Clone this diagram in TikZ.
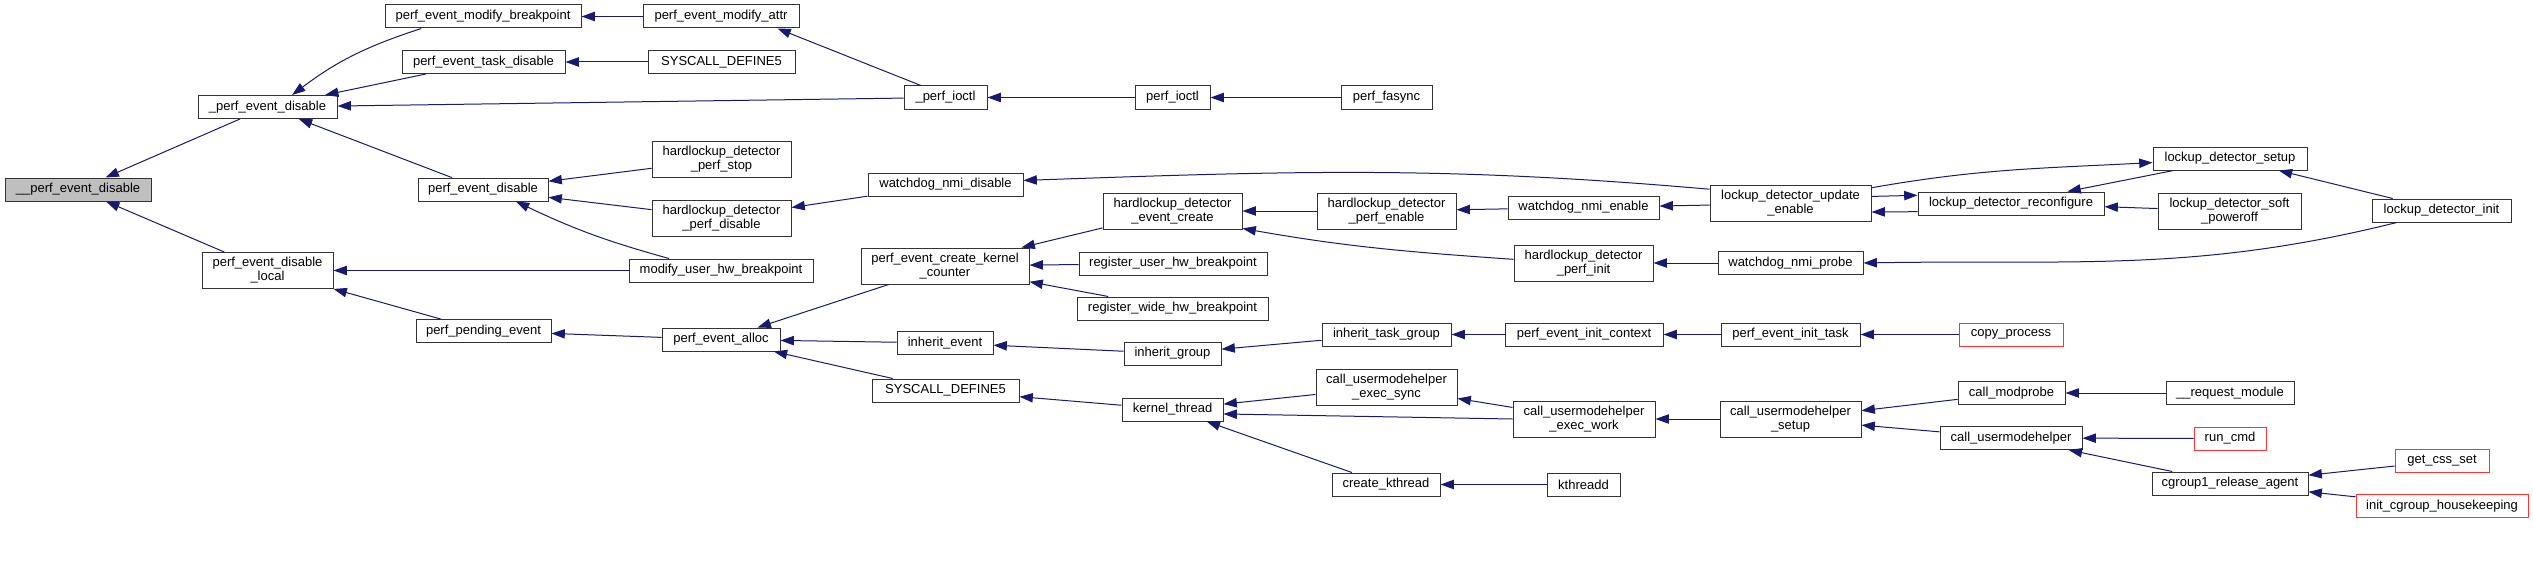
\documentclass[tikz,border=0pt]{standalone}
\usepackage{fontspec}
\setmainfont{Liberation Sans}
\usetikzlibrary{arrows.meta}
\definecolor{edgeblue}{HTML}{191970}
\definecolor{extred}{HTML}{FF3333}
\definecolor{rootgray}{HTML}{BFBFBF}
\begin{document}
\begin{tikzpicture}
[x=0.75pt,y=-0.75pt,
 fn/.style={draw=black!80, fill=white, line width=0.75pt, inner sep=0pt, minimum height=17.25pt,
   align=center, font=\fontsize{9.75}{10.5}\selectfont},
 wd/.style={minimum width=#1*0.75pt},
 tall/.style={minimum height=27pt},
 ext/.style={draw=extred},
 call/.style={draw=edgeblue, line width=0.75pt, {Triangle[length=10pt,width=7pt]}-}]
\path[use as bounding box, fill=white] (0,0) rectangle (2533,585);
% column 1-2
\node[fn, wd=146, fill=rootgray] (root) at (78,189.5) {\_\_perf\_event\_disable};
\node[fn, wd=139] (pedis) at (267.5,107) {\_perf\_event\_disable};
\node[fn, wd=131, tall] (pedlocal) at (267.5,270.5) {perf\_event\_disable\\\_local};
% column 3
\node[fn, wd=196] (modbp) at (483,16.5) {perf\_event\_modify\_breakpoint};
\node[fn, wd=163] (taskdis) at (483.5,62) {perf\_event\_task\_disable};
\node[fn, wd=130] (pedisable) at (483,189.5) {perf\_event\_disable};
\node[fn, wd=135] (pending) at (483.5,331) {perf\_pending\_event};
% column 4
\node[fn, wd=156] (modattr) at (721,16.5) {perf\_event\_modify\_attr};
\node[fn, wd=147] (sysdef) at (721.5,62) {SYSCALL\_DEFINE5};
\node[fn, wd=139, tall] (hlstop) at (721.5,159.5) {hardlockup\_detector\\\_perf\_stop};
\node[fn, wd=139, tall] (hldisable) at (721.5,218) {hardlockup\_detector\\\_perf\_disable};
\node[fn, wd=184] (modhw) at (721,270.5) {modify\_user\_hw\_breakpoint};
\node[fn, wd=118] (alloc) at (721,339.5) {perf\_event\_alloc};
% column 5
\node[fn, wd=83] (ioctlu) at (945.5,97.5) {\_perf\_ioctl};
\node[fn, wd=155] (nmidis) at (945.5,184.5) {watchdog\_nmi\_disable};
\node[fn, wd=168, tall] (kcounter) at (945,266) {perf\_event\_create\_kernel\\\_counter};
\node[fn, wd=96] (inhev) at (945,343) {inherit\_event};
\node[fn, wd=147] (sysdefb) at (945.5,390.5) {SYSCALL\_DEFINE5};
% column 6
\node[fn, wd=75] (ioctl) at (1172.5,97.5) {perf\_ioctl};
\node[fn, wd=139, tall] (hlcreate) at (1172.5,211) {hardlockup\_detector\\\_event\_create};
\node[fn, wd=188] (reguser) at (1173,263.5) {register\_user\_hw\_breakpoint};
\node[fn, wd=191] (regwide) at (1172.5,308.5) {register\_wide\_hw\_breakpoint};
\node[fn, wd=97] (inhgrp) at (1172.5,353.5) {inherit\_group};
\node[fn, wd=101] (kthr) at (1172.5,409.5) {kernel\_thread};
% column 7
\node[fn, wd=91] (fasync) at (1386.5,97.5) {perf\_fasync};
\node[fn, wd=139, tall] (hlenable) at (1386.5,211) {hardlockup\_detector\\\_perf\_enable};
\node[fn, wd=129] (inhtask) at (1386.5,334.5) {inherit\_task\_group};
\node[fn, wd=141, tall] (umhsync) at (1386.5,387) {call\_usermodehelper\\\_exec\_sync};
\node[fn, wd=108] (ckthr) at (1386,484.5) {create\_kthread};
% column 8
\node[fn, wd=151] (nmien) at (1583.5,207.5) {watchdog\_nmi\_enable};
\node[fn, wd=139, tall] (hlinit) at (1583.5,263) {hardlockup\_detector\\\_perf\_init};
\node[fn, wd=158] (initctx) at (1584,334.5) {perf\_event\_init\_context};
\node[fn, wd=142, tall] (umhwork) at (1584,419) {call\_usermodehelper\\\_exec\_work};
\node[fn, wd=73] (kthreadd) at (1583.5,484.5) {kthreadd};
% column 9
\node[fn, wd=161, tall] (lcupd) at (1790.5,203.5) {lockup\_detector\_update\\\_enable};
\node[fn, wd=145] (nmiprobe) at (1790.5,263) {watchdog\_nmi\_probe};
\node[fn, wd=139] (inittask) at (1790.5,334.5) {perf\_event\_init\_task};
\node[fn, wd=141, tall] (umhsetup) at (1790.5,419) {call\_usermodehelper\\\_setup};
% column 10
\node[fn, wd=186] (lcreconf) at (2011,203.5) {lockup\_detector\_reconfigure};
\node[fn, wd=104, ext] (copyproc) at (2011,334.5) {copy\_process};
\node[fn, wd=107] (modprobe) at (2011.5,393) {call\_modprobe};
\node[fn, wd=142] (umh) at (2011,438) {call\_usermodehelper};
% column 11-12
\node[fn, wd=154] (lcsetup) at (2230,158.5) {lockup\_detector\_setup};
\node[fn, wd=143, tall] (lcpoff) at (2229.5,211) {lockup\_detector\_soft\\\_poweroff};
\node[fn, wd=128] (reqmod) at (2230,393) {\_\_request\_module};
\node[fn, wd=72, ext] (runcmd) at (2230,438.5) {run\_cmd};
\node[fn, wd=156] (cgrel) at (2230,483.5) {cgroup1\_release\_agent};
\node[fn, wd=139] (lcinit) at (2441.5,210.5) {lockup\_detector\_init};
\node[fn, wd=94, ext] (cssset) at (2442,461) {get\_css\_set};
\node[fn, wd=172, ext] (cghouse) at (2442,506) {init\_cgroup\_housekeeping};
% calls, arrow at the callee
\draw[call] (root) -- (pedis);
\draw[call] (root) -- (pedlocal);
\draw[call] (pedis.26) to[out=37,in=198] (modbp.191);
\draw[call] (pedis) -- (taskdis);
\draw[call] (pedis) -- (ioctlu);
\draw[call] (pedis) -- (pedisable);
\draw[call] (pedlocal) -- (modhw);
\draw[call] (pedlocal) -- (pending);
\draw[call] (modbp) -- (modattr);
\draw[call] (taskdis) -- (sysdef);
\draw[call] (pedisable) -- (hlstop);
\draw[call] (pedisable) -- (hldisable);
\draw[call] (pedisable.340) to[bend right=5] (modhw.167);
\draw[call] (pending) -- (alloc);
\draw[call] (modattr.348) -- (ioctlu.154);
\draw[call] (hldisable) -- (nmidis);
\draw[call] (alloc) -- (kcounter);
\draw[call] (alloc) -- (inhev);
\draw[call] (alloc) -- (sysdefb);
\draw[call] (ioctlu) -- (ioctl);
\draw[call] (ioctl) -- (fasync);
\draw[call] (nmidis.3) to[out=2,in=175] (lcupd.170);
\draw[call] (kcounter) -- (hlcreate);
\draw[call] (kcounter) -- (reguser);
\draw[call] (kcounter) -- (regwide);
\draw[call] (inhev) -- (inhgrp);
\draw[call] (sysdefb) -- (kthr);
\draw[call] (hlcreate) -- (hlenable);
\draw[call] (hlcreate.346) to[out=-10,in=176] (hlinit.177);
\draw[call] (inhgrp) -- (inhtask);
\draw[call] (kthr) -- (umhsync);
\draw[call] (kthr.355) -- (umhwork.west);
\draw[call] (kthr) -- (ckthr);
\draw[call] (hlenable) -- (nmien);
\draw[call] (inhtask) -- (initctx);
\draw[call] (umhsync) -- (umhwork);
\draw[call] (ckthr) -- (kthreadd);
\draw[call] (nmien) -- (lcupd);
\draw[call] (hlinit) -- (nmiprobe);
\draw[call] (initctx) -- (inittask);
\draw[call] (umhwork) -- (umhsetup);
\draw[call] (lcreconf.175) -- (lcupd.5);
\draw[call] (lcupd.354) -- (lcreconf.185);
\draw[call] (lcsetup.183) to[out=183,in=10] (lcupd.11);
\draw[call] (nmiprobe.east) to[out=1,in=194] (lcinit.195);
\draw[call] (inittask) -- (copyproc);
\draw[call] (umhsetup) -- (modprobe);
\draw[call] (umhsetup) -- (umh);
\draw[call] (lcreconf.12) -- (lcsetup.192);
\draw[call] (lcreconf) -- (lcpoff);
\draw[call] (lcsetup) -- (lcinit);
\draw[call] (modprobe) -- (reqmod);
\draw[call] (umh) -- (runcmd);
\draw[call] (umh) -- (cgrel);
\draw[call] (cgrel) -- (cssset);
\draw[call] (cgrel) -- (cghouse);
\end{tikzpicture}
\end{document}
